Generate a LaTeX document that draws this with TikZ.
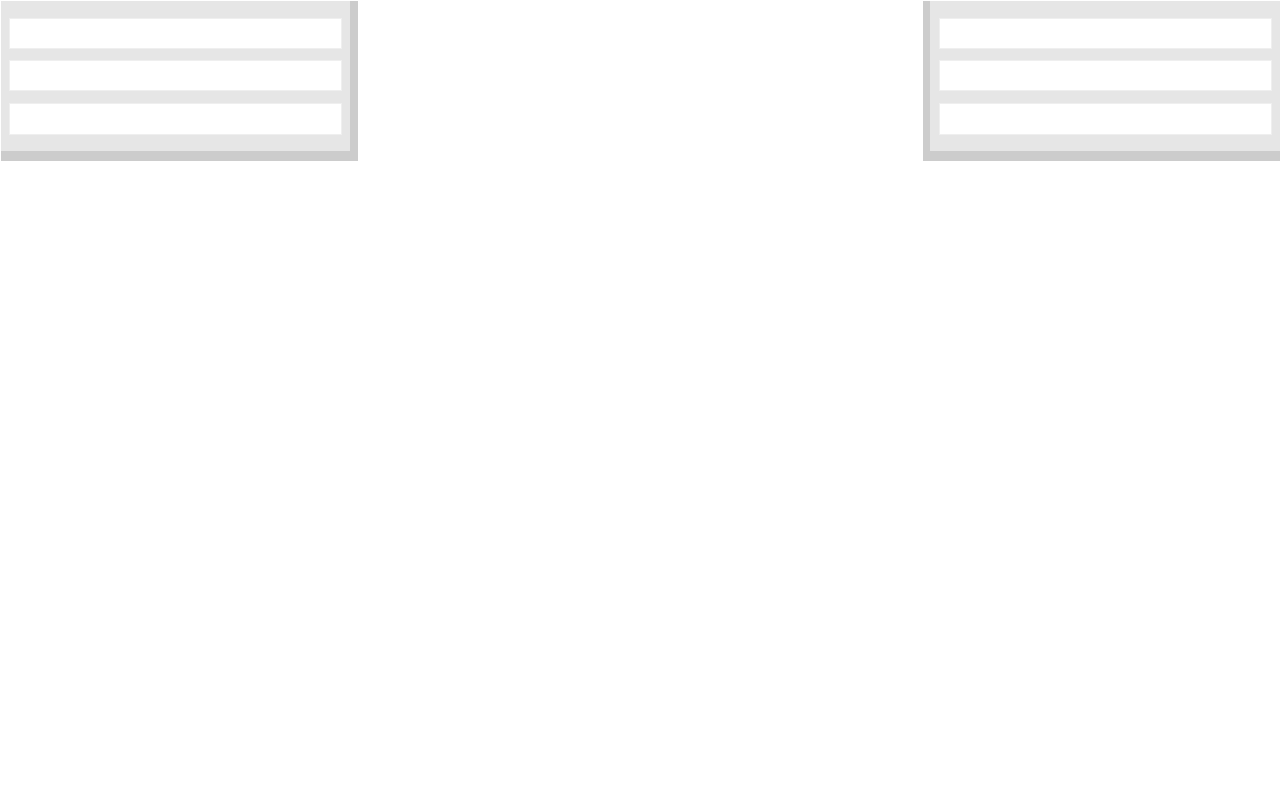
\documentclass[tikz,border=0pt]{standalone}
\definecolor{panelgray}{HTML}{E6E6E6}
\definecolor{shadowgray}{HTML}{CCCCCC}
\definecolor{slotedge}{HTML}{EFEFEF}
\tikzset{
  shadowbox/.style={fill=shadowgray, draw=none},
  panelbox/.style={fill=panelgray, draw=none},
  slotbox/.style={fill=white, draw=slotedge, line width=0.6pt},
}
\begin{document}
\begin{tikzpicture}[x=1pt,y=-1pt]
\useasboundingbox (0,0) rectangle (1280,801);
% left panel
\fill[shadowgray] (1,1) rectangle (358,161);
\fill[panelgray] (0.5,0.5) rectangle (350,151);
\node[slotbox, minimum width=332pt, minimum height=30.5pt, inner sep=0pt, anchor=north west] (l1) at (9,17.5) {};
\node[slotbox, minimum width=332pt, minimum height=30pt, inner sep=0pt, anchor=north west] (l2) at (9,60) {};
\node[slotbox, minimum width=332pt, minimum height=30.5pt, inner sep=0pt, anchor=north west] (l3) at (9,103) {};
% right panel
\fill[shadowgray] (923,1) rectangle (1280,161);
\fill[panelgray] (930,0.5) rectangle (1280,151);
\node[slotbox, minimum width=331.5pt, minimum height=30.5pt, inner sep=0pt, anchor=north west] (r1) at (939,17.5) {};
\node[slotbox, minimum width=331.5pt, minimum height=30pt, inner sep=0pt, anchor=north west] (r2) at (939,60) {};
\node[slotbox, minimum width=331.5pt, minimum height=30.5pt, inner sep=0pt, anchor=north west] (r3) at (939,103) {};
\end{tikzpicture}
\end{document}
